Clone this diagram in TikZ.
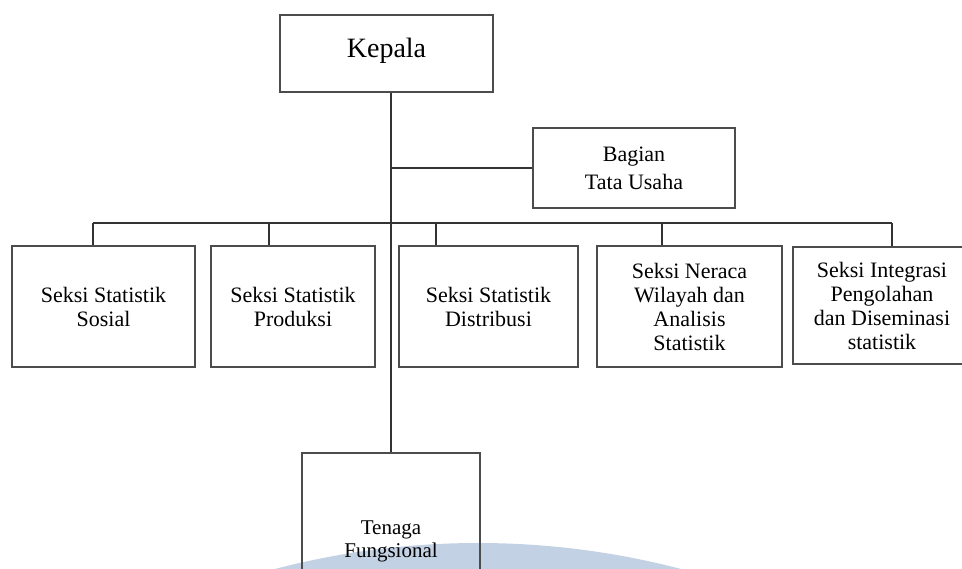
\documentclass[tikz,border=0pt]{standalone}
\usepackage{fontspec}
\setmainfont{Liberation Serif}
\tikzset{
	unit/.style={draw=black!70,line width=2pt,align=center,inner sep=0pt,font=\fontsize{22}{24}\selectfont},
	link/.style={line width=1.2pt,color=black!80}
}
\definecolor{wmblue}{HTML}{C3D1E5}
\begin{document}
\begin{tikzpicture}[x=1pt,y=-1pt]
	\useasboundingbox (0,0) rectangle (962,569);
	\clip (0,0) rectangle (962,569);
	
	%watermark
	\fill[wmblue] (478,1343) circle (800);
	
	%Kepala
	\node[unit,minimum width=213pt,minimum height=77pt,font=\fontsize{28}{30}\selectfont] at (386.5,53.5) (kepala) {Kepala\rule[-12pt]{0pt}{1pt}};
	
	%Bagian
	\node[unit,minimum width=202pt,minimum height=80pt,font=\fontsize{22}{28}\selectfont] at (634,168) (bagian) {Bagian\\Tata Usaha};
	
	%Seksi
	\node[unit,minimum width=183pt,minimum height=121pt] at (103.5,306.5) (sosial) {Seksi Statistik\\Sosial};
	\node[unit,minimum width=164pt,minimum height=121pt] at (293,306.5) (produksi) {Seksi Statistik\\Produksi};
	\node[unit,minimum width=179pt,minimum height=121pt] at (488.5,306.5) (distribusi) {Seksi Statistik\\Distribusi};
	\node[unit,minimum width=185pt,minimum height=121pt] at (689.5,306.5) (neraca) {Seksi Neraca\\Wilayah dan\\Analisis\\Statistik};
	\node[unit,minimum width=178pt,minimum height=117pt] at (882,306) (integrasi) {Seksi Integrasi\\Pengolahan\\dan Diseminasi\\statistik};
	
	%Fungsional
	\node[unit,minimum width=178pt,minimum height=176pt,font=\fontsize{21}{23}\selectfont] at (391,541) (tenaga) {Tenaga\\Fungsional};
	
	%Lines
	\coordinate (b1) at (93,223);
	\coordinate (b2) at (269,223);
	\coordinate (b3) at (436,223);
	\coordinate (b4) at (662,223);
	\coordinate (b5) at (892,223);
	\draw[link] (kepala.south -| tenaga.north)--(tenaga.north);
	\draw[link] (bagian.west)--(bagian.west -| tenaga.north);
	\draw[link] (b1)--(b5);
	\draw[link] (b1)--(b1 |- sosial.north);
	\draw[link] (b2)--(b2 |- produksi.north);
	\draw[link] (b3)--(b3 |- distribusi.north);
	\draw[link] (b4)--(b4 |- neraca.north);
	\draw[link] (b5)--(b5 |- integrasi.north);

\end{tikzpicture}
\end{document}
